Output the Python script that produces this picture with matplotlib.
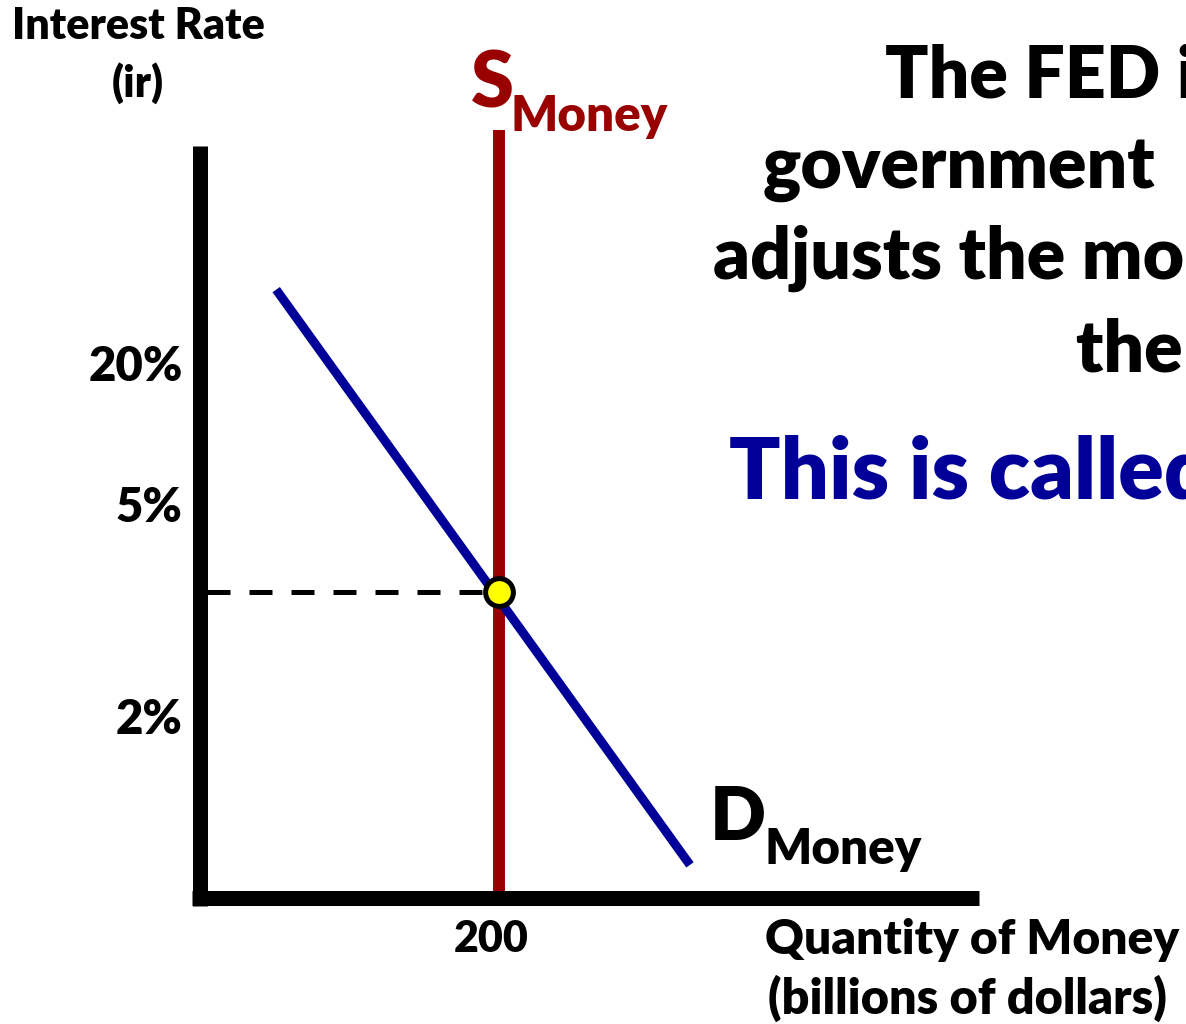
import matplotlib
matplotlib.use("Agg")
import matplotlib.pyplot as plt

W, H = 1186, 1024
RED = "#990000"
BLUE = "#000099"
FONT = "Lato"
WEIGHT = "heavy"

# quantity of money (billions) and the height on the rate axis
x_max = 520.5
y_max = 100
rate_ticks = [70.6, 51.9, 23.7]
rate_labels = ["20%", "5%", "2%"]
qty_ticks = [200]
qty_labels = ["200"]

supply_q = [200, 200]
supply_r = [0, 102.1]
demand_q = [51.2, 327.5]
demand_r = [80.9, 4.4]
eq_q = 200
eq_r = 40.7

paragraph = [
    ("The FED is a quasi-", 885, 98),
    ("government", 763, 188),
    ("adjusts the money supply to change", 713, 279),
    ("the interest rate.", 1076, 372),
]


def fx(px):
    return px / W


def fy(py):
    return 1 - py / H


fig = plt.figure(figsize=(W / 100, H / 100), dpi=100, facecolor="white")
ax = fig.add_axes([fx(199.5), fy(898), fx(979 - 199.5), (898 - 146) / H])
ax.set_xlim(0, x_max)
ax.set_ylim(0, y_max)
ax.axis("off")

# axes drawn as thick black bars
ax.plot([0, 0], [-1.0, y_max], color="black", lw=10.8,
        solid_capstyle="butt", clip_on=False, zorder=5)
ax.plot([-5.2, x_max], [0, 0], color="black", lw=10.8,
        solid_capstyle="butt", clip_on=False, zorder=5)

ax.plot(supply_q, supply_r, color=RED, lw=8.6, solid_capstyle="butt",
        clip_on=False, zorder=2)
ax.plot(demand_q, demand_r, color=BLUE, lw=6.5, solid_capstyle="butt",
        clip_on=False, zorder=3)
ax.plot([5.0, eq_q], [eq_r, eq_r], color="black", lw=3.6,
        dashes=(4.6, 3.8), solid_capstyle="butt", zorder=1)
ax.plot([eq_q], [eq_r], marker="o", ms=20, mfc="#ffff00", mec="black",
        mew=3.6, zorder=6, clip_on=False)

bold = dict(fontweight=WEIGHT, family=FONT)

for pos, lab in zip(rate_ticks, rate_labels):
    ax.annotate(lab, xy=(0, pos), xytext=(-17, 0), textcoords="offset pixels",
                ha="right", va="center", fontsize=34, **bold)
for pos, lab in zip(qty_ticks, qty_labels):
    ax.annotate(lab, xy=(pos, 0), xytext=(-8, -54), textcoords="offset pixels",
                ha="center", va="baseline", fontsize=31, **bold)

fig.text(fx(138), fy(39), "Interest Rate", ha="center", va="baseline",
         fontsize=31, **bold)
fig.text(fx(138), fy(97), "(ir)", ha="center", va="baseline",
         fontsize=31, **bold)

fig.text(fx(471), fy(107), "S", ha="left", va="baseline", fontsize=56,
         color=RED, **bold)
fig.text(fx(511), fy(131), "Money", ha="left", va="baseline", fontsize=35.5,
         color=RED, **bold)

fig.text(fx(710), fy(840), "D", ha="left", va="baseline", fontsize=53,
         color="black", **bold)
fig.text(fx(764), fy(864), "Money", ha="left", va="baseline", fontsize=35.5,
         color="black", **bold)

fig.text(fx(765), fy(954), "Quantity of Money", ha="left", va="baseline",
         fontsize=34.5, **bold)
fig.text(fx(768), fy(1014), "(billions of dollars)", ha="left",
         va="baseline", fontsize=35, **bold)

for line, x0, base in paragraph:
    fig.text(fx(x0), fy(base), line, ha="left", va="baseline", fontsize=51.5,
             **bold)
fig.text(fx(729), fy(499), "This is called Monetary Policy", ha="left",
         va="baseline", fontsize=61, color=BLUE, **bold)

fig.savefig("out.png", dpi=100, facecolor="white")
